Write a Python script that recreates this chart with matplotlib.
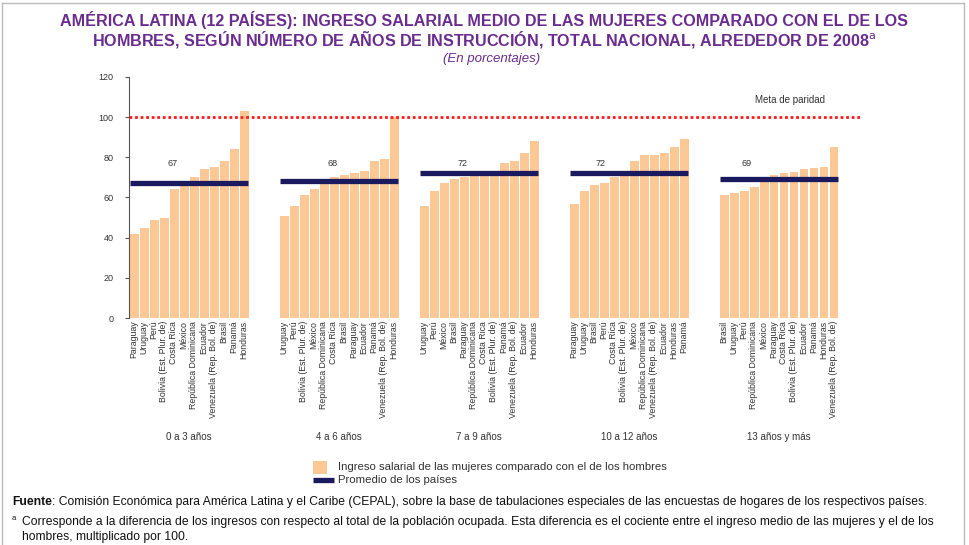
import matplotlib
matplotlib.use("Agg")
import matplotlib.pyplot as plt
from matplotlib.lines import Line2D
from matplotlib.patches import Rectangle

# --- data ---
groups = ["0 a 3 años", "4 a 6 años", "7 a 9 años", "10 a 12 años", "13 años y más"]

countries_g1 = ["Paraguay", "Uruguay", "Perú", "Bolivia (Est. Plur. de)", "Costa Rica", "México",
                "República Dominicana", "Ecuador", "Venezuela (Rep. Bol. de)", "Brasil", "Panamá", "Honduras"]
values_g1 = [42, 45, 49, 50, 64, 66, 70, 74, 75, 78, 84, 103]

countries_g2 = ["Uruguay", "Perú", "Bolivia (Est. Plur. de)", "México", "República Dominicana", "Costa Rica",
                "Brasil", "Paraguay", "Ecuador", "Panamá", "Venezuela (Rep. Bol. de)", "Honduras"]
values_g2 = [51, 56, 61, 64, 67, 70, 71, 72, 73, 78, 79, 100]

countries_g3 = ["Uruguay", "Perú", "México", "Brasil", "Paraguay", "República Dominicana", "Costa Rica",
                "Bolivia (Est. Plur. de)", "Panamá", "Venezuela (Rep. Bol. de)", "Ecuador", "Honduras"]
values_g3 = [56, 63, 67, 69, 70, 71, 72, 73, 77, 78, 82, 88]

countries_g4 = ["Paraguay", "Uruguay", "Brasil", "Perú", "Costa Rica", "Bolivia (Est. Plur. de)", "México",
                "República Dominicana", "Venezuela (Rep. Bol. de)", "Ecuador", "Honduras", "Panamá"]
values_g4 = [57, 63, 66, 67, 70, 71, 78, 81, 81, 82, 85, 89]

countries_g5 = ["Brasil", "Uruguay", "Perú", "República Dominicana", "México", "Paraguay", "Costa Rica",
                "Bolivia (Est. Plur. de)", "Ecuador", "Panamá", "Honduras", "Venezuela (Rep. Bol. de)"]
values_g5 = [61, 62, 63, 65, 70, 71, 72, 72.5, 74, 74.5, 75, 85]

averages = [67, 68, 72, 72, 69]
parity = 100

# --- layout ---
group_start = [0, 15, 29, 44, 59]
avg_label_offset = [3.9, 4.9, 3.9, 2.7, 2.3]

BAR = "#FCC895"
NAVY = "#1C1A5E"
PURPLE = "#6A2C8F"
TXT = "#333333"
FOOT = "#111111"

plt.rcParams["font.family"] = ["Liberation Sans", "DejaVu Sans"]

fig = plt.figure(figsize=(9.69, 5.45), dpi=100)
W, H = 969, 545
ax = fig.add_axes([129 / W, 1 - 318 / H, (862 - 129) / W, (318 - 77) / H])

all_countries = [countries_g1, countries_g2, countries_g3, countries_g4, countries_g5]
all_values = [values_g1, values_g2, values_g3, values_g4, values_g5]

tick_pos, tick_lab = [], []
for g, (names, vals) in enumerate(zip(all_countries, all_values)):
    xs = [group_start[g] + i for i in range(len(vals))]
    ax.bar(xs, vals, width=0.9, color=BAR, linewidth=0, zorder=2)
    ax.plot([xs[0] - 0.4, xs[-1] + 0.4], [averages[g]] * 2, color=NAVY, lw=3.8,
            solid_capstyle="butt", zorder=3)
    ax.text(xs[0] + avg_label_offset[g], 77, str(averages[g]), ha="center", va="center",
            fontsize=6.5, color=TXT)
    ax.text((xs[0] + xs[-1]) / 2, -0.495, groups[g], transform=ax.get_xaxis_transform(),
            ha="center", va="center", fontsize=7, color=TXT)
    tick_pos += xs
    tick_lab += names

ax.axhline(parity, color="#FF1A1A", lw=2, linestyle=(0, (1, 1)), dash_capstyle="butt", zorder=4)
ax.text(65.6, 108.5, "Meta de paridad", ha="center", va="center", fontsize=7, color=TXT)

ax.set_xlim(-0.5, 72.8)
ax.set_ylim(0, 120)
ax.set_yticks(range(0, 121, 20))
ax.set_xticks(tick_pos, tick_lab, rotation=90, fontsize=6.3, color=TXT)
ax.tick_params(axis="x", length=0, pad=2)
ax.tick_params(axis="y", length=3, width=0.8, color="#555555", labelsize=6.5, labelcolor=TXT, pad=8)
for s in ["top", "right", "bottom"]:
    ax.spines[s].set_visible(False)
ax.spines["left"].set_color("#555555")
ax.spines["left"].set_linewidth(0.8)

# titles
fig.text(484 / W, 1 - 20 / H,
         "AMÉRICA LATINA (12 PAÍSES): INGRESO SALARIAL MEDIO DE LAS MUJERES COMPARADO CON EL DE LOS",
         ha="center", va="center", fontsize=11.6, fontweight="bold", color=PURPLE)
fig.text(484 / W, 1 - 40 / H,
         "HOMBRES, SEGÚN NÚMERO DE AÑOS DE INSTRUCCIÓN, TOTAL NACIONAL, ALREDEDOR DE 2008$^{\\mathrm{a}}$",
         ha="center", va="center", fontsize=11.6, fontweight="bold", color=PURPLE)
fig.text(492 / W, 1 - 59 / H, "(En porcentajes)", ha="center", va="center", fontsize=9.5,
         style="italic", color=PURPLE)

# legend
fig.add_artist(Rectangle((313 / W, 1 - 474 / H), 14 / W, 13 / H, transform=fig.transFigure,
                         facecolor=BAR, edgecolor="none"))
fig.add_artist(Line2D([313 / W, 334 / W], [1 - 480 / H] * 2, transform=fig.transFigure,
                      color=NAVY, lw=3.8, solid_capstyle="butt"))
fig.text(338 / W, 1 - 467 / H, "Ingreso salarial de las mujeres comparado con el de los hombres",
         ha="left", va="center", fontsize=8.2, color=TXT)
fig.text(338 / W, 1 - 480 / H, "Promedio de los países", ha="left", va="center", fontsize=8.2,
         color=TXT)

# footnotes
src_bold = fig.text(12 / W, 1 - 502 / H, "Fuente", ha="left", va="center", fontsize=8.7,
                    fontweight="bold", color=FOOT)
fig.canvas.draw()
bb = src_bold.get_window_extent()
fig.text(bb.x1 / W, 1 - 502 / H,
         ": Comisión Económica para América Latina y el Caribe (CEPAL), sobre la base de tabulaciones "
         "especiales de las encuestas de hogares de los respectivos países.",
         ha="left", va="center", fontsize=8.7, color=FOOT)
fig.text(12 / W, 1 - 519 / H, "a", ha="left", va="center", fontsize=5.5, color=FOOT)
fig.text(22 / W, 1 - 522 / H,
         "Corresponde a la diferencia de los ingresos con respecto al total de la población ocupada. "
         "Esta diferencia es el cociente entre el ingreso medio de las mujeres y el de los",
         ha="left", va="center", fontsize=8.7, color=FOOT)
fig.text(22 / W, 1 - 537 / H, "hombres, multiplicado por 100.", ha="left", va="center", fontsize=8.7,
         color=FOOT)

# frame
fig.add_artist(Line2D([2 / W, 2 / W], [0, 1 - 3 / H], transform=fig.transFigure, color="#BBBBBB", lw=1))
fig.add_artist(Line2D([2 / W, 964 / W], [1 - 3 / H] * 2, transform=fig.transFigure, color="#BBBBBB", lw=1))
fig.add_artist(Line2D([964 / W, 964 / W], [0, 1 - 3 / H], transform=fig.transFigure, color="#BBBBBB", lw=1))

fig.savefig("out.png", dpi=100)
